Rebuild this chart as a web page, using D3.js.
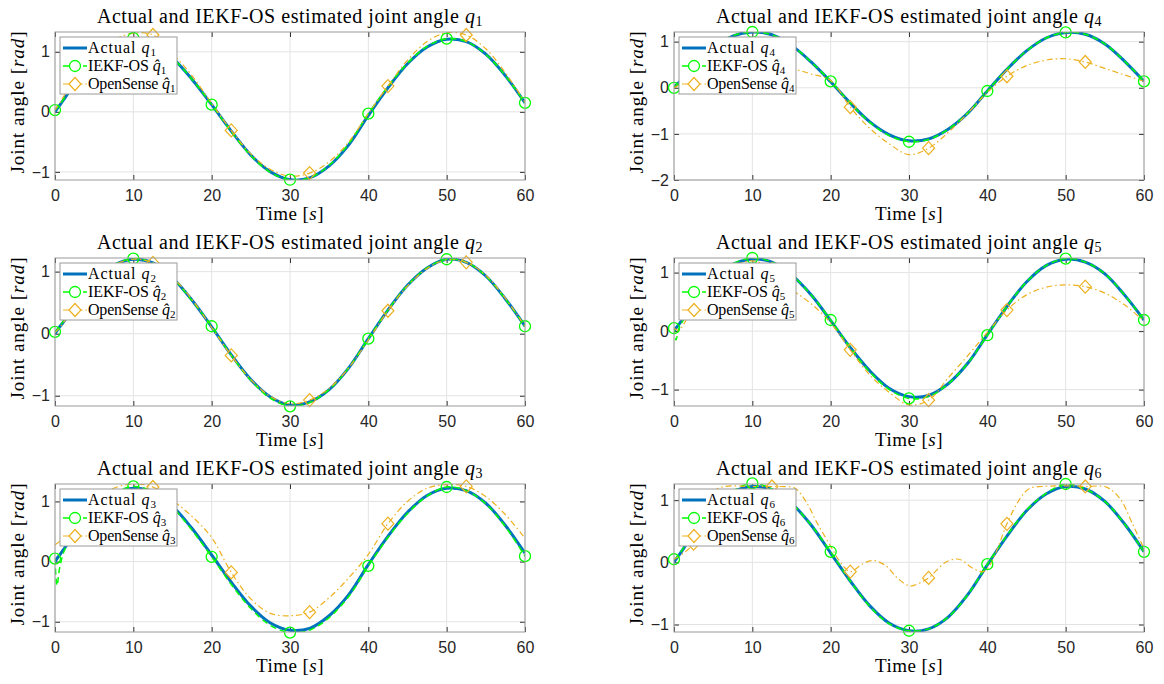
<!DOCTYPE html>
<html>
<head>
<meta charset="utf-8">
<script src="https://cdn.jsdelivr.net/npm/d3@7"></script>
<style>
  body { margin: 0; background: #fff; }
  svg { display: block; }
  .tick text { font-family: "Liberation Sans", Arial, sans-serif; font-size: 16px; fill: #262626; }
  .serif { font-family: "Liberation Serif", "Times New Roman", serif; fill: #000; }
</style>
</head>
<body>
<div id="chart"></div>
<script>
// Sample times [s] shared by most series
const timeGrid = [0, 0.25, 0.6, 1.25, 2.5, 5, 7.5, 10, 12.5, 15, 17.5, 20, 22.5, 25, 27.5, 30,
  32.5, 35, 37.5, 40, 42.5, 45, 47.5, 50, 52.5, 55, 57.5, 60];

// Marker positions (MATLAB MarkerIndices)
const circleTimes = [0, 10, 20, 30, 40, 50, 60];
const diamondTimes = [2.5, 12.5, 22.5, 32.5, 42.5, 52.5];
const xTicks = [0, 10, 20, 30, 40, 50, 60];

// q1
const actualQ1 = [0, 0.05, 0.11, 0.23, 0.46, 0.86, 1.12, 1.21, 1.14, 0.9, 0.54, 0.12, -0.32, -0.72, -1.0, -1.13, -1.1, -0.9, -0.55, -0.06, 0.4, 0.8, 1.08, 1.21, 1.17, 0.96, 0.6, 0.15];
const iekfQ1 = [0.03, 0.07, 0.12, 0.24, 0.47, 0.87, 1.13, 1.23, 1.15, 0.9, 0.54, 0.12, -0.33, -0.73, -1.01, -1.13, -1.1, -0.89, -0.53, -0.03, 0.42, 0.81, 1.09, 1.22, 1.17, 0.96, 0.6, 0.15];
const osQ1 = [0.03, 0.08, 0.15, 0.29, 0.55, 0.95, 1.2, 1.31, 1.28, 0.97, 0.6, 0.14, -0.31, -0.7, -0.96, -1.07, -1.02, -0.83, -0.5, -0.03, 0.43, 0.86, 1.17, 1.32, 1.28, 1.05, 0.65, 0.16];

// q2
const actualQ2 = [0, 0.05, 0.11, 0.22, 0.45, 0.85, 1.1, 1.2, 1.14, 0.9, 0.54, 0.11, -0.34, -0.74, -1.02, -1.15, -1.1, -0.9, -0.55, -0.08, 0.38, 0.78, 1.06, 1.2, 1.15, 0.93, 0.56, 0.12];
const iekfQ2 = [0.03, 0.06, 0.12, 0.23, 0.46, 0.86, 1.11, 1.21, 1.14, 0.9, 0.53, 0.12, -0.35, -0.75, -1.04, -1.17, -1.11, -0.9, -0.55, -0.08, 0.38, 0.78, 1.06, 1.2, 1.15, 0.93, 0.56, 0.12];
const osQ2 = [0.02, 0.05, 0.1, 0.21, 0.44, 0.84, 1.1, 1.2, 1.14, 0.91, 0.55, 0.1, -0.35, -0.74, -1.01, -1.13, -1.07, -0.88, -0.55, -0.1, 0.37, 0.77, 1.05, 1.19, 1.15, 0.94, 0.57, 0.12];

// q3
const actualQ3 = [0, 0.05, 0.11, 0.23, 0.46, 0.86, 1.12, 1.22, 1.16, 0.92, 0.55, 0.11, -0.34, -0.74, -1.02, -1.14, -1.11, -0.9, -0.55, -0.05, 0.42, 0.82, 1.1, 1.22, 1.18, 0.97, 0.6, 0.14];
const iekfQ3 = [0.05, -0.4, -0.1, 0.2, 0.44, 0.85, 1.13, 1.25, 1.16, 0.9, 0.52, 0.08, -0.38, -0.78, -1.06, -1.18, -1.14, -0.93, -0.58, -0.07, 0.4, 0.8, 1.09, 1.24, 1.18, 0.96, 0.58, 0.09];
const osQ3 = [0.28, 0.3, 0.34, 0.43, 0.66, 1.02, 1.22, 1.29, 1.24, 1.02, 0.75, 0.4, -0.18, -0.62, -0.86, -0.9, -0.84, -0.6, -0.27, 0.12, 0.63, 1.0, 1.22, 1.28, 1.25, 1.08, 0.78, 0.39];

// q4
const actualQ4 = [0, 0.05, 0.11, 0.23, 0.46, 0.86, 1.12, 1.21, 1.15, 0.92, 0.56, 0.13, -0.33, -0.74, -1.02, -1.15, -1.11, -0.9, -0.55, -0.07, 0.4, 0.8, 1.08, 1.2, 1.16, 0.95, 0.58, 0.14];
const iekfQ4 = [0, 0.05, 0.11, 0.23, 0.47, 0.87, 1.13, 1.21, 1.15, 0.92, 0.56, 0.14, -0.33, -0.75, -1.04, -1.17, -1.12, -0.9, -0.55, -0.07, 0.4, 0.8, 1.08, 1.2, 1.16, 0.95, 0.58, 0.14];
const osQ4 = [0, 0.02, 0.06, 0.14, 0.3, 0.45, 0.52, 0.53, 0.5, 0.42, 0.3, 0.16, -0.42, -0.88, -1.22, -1.45, -1.31, -0.97, -0.55, -0.1, 0.25, 0.48, 0.6, 0.63, 0.56, 0.42, 0.28, 0.14];

// q5
const actualQ5 = [0, 0.05, 0.11, 0.23, 0.47, 0.88, 1.14, 1.23, 1.18, 0.96, 0.62, 0.18, -0.28, -0.68, -0.98, -1.12, -1.1, -0.9, -0.55, -0.06, 0.42, 0.84, 1.12, 1.23, 1.18, 0.98, 0.62, 0.19];
const iekfQ5 = [0.05, -0.15, 0.03, 0.2, 0.46, 0.88, 1.15, 1.25, 1.18, 0.96, 0.62, 0.19, -0.28, -0.7, -1.0, -1.15, -1.12, -0.9, -0.55, -0.07, 0.42, 0.84, 1.12, 1.24, 1.18, 0.98, 0.62, 0.19];
const osQ5 = [0.05, 0.03, 0.01, 0.12, 0.42, 0.84, 1.1, 1.2, 1.06, 0.72, 0.47, 0.14, -0.32, -0.75, -1.05, -1.26, -1.18, -0.8, -0.42, -0.02, 0.36, 0.62, 0.75, 0.79, 0.76, 0.65, 0.45, 0.17];

// q6 (OpenSense has its own, finer time base)
const actualQ6 = [0, 0.05, 0.11, 0.23, 0.47, 0.87, 1.13, 1.22, 1.17, 0.95, 0.6, 0.15, -0.3, -0.7, -0.98, -1.1, -1.07, -0.88, -0.52, -0.04, 0.42, 0.83, 1.1, 1.22, 1.18, 0.98, 0.62, 0.17];
const iekfQ6 = [0.05, 0.07, 0.12, 0.24, 0.48, 0.88, 1.15, 1.27, 1.18, 0.95, 0.6, 0.17, -0.3, -0.71, -0.99, -1.1, -1.07, -0.88, -0.52, -0.03, 0.43, 0.84, 1.11, 1.26, 1.18, 0.98, 0.62, 0.17];
const osTimeQ6 = [0, 1.25, 2.5, 3.5, 5.2, 6.5, 10, 12.5, 15, 15.6, 16.9, 18.2, 19.9, 21.2, 22.5, 24, 25.4, 27, 28.5, 30.1,
  31.4, 32.5, 34.8, 36.4, 38.2, 39.5, 40.3, 41.3, 42.5, 44.2, 45.4, 47, 50, 52.5, 55.2, 56.9, 58.6, 60];
const osQ6 = [0.05, 0.15, 0.3, 0.55, 1.15, 1.22, 1.22, 1.22, 1.21, 1.18, 0.97, 0.65, 0.28, 0.01, -0.15, -0.03, 0.03, -0.05, -0.25, -0.38,
  -0.33, -0.25, 0.01, 0.05, -0.1, -0.15, -0.05, 0.22, 0.62, 1.03, 1.19, 1.22, 1.23, 1.22, 1.21, 1.03, 0.6, 0.22];

const colors = { actual: "#0072BD", iekf: "#00FF00", os: "#EDB120" };

// Stretch a serif label to the width the LaTeX font gives in the original
function fitWidth(sel, target) {
  sel.each(function () {
    const w = this.getComputedTextLength();
    const n = this.textContent.length;
    if (n > 1) d3.select(this).attr("letter-spacing", ((target - w) / n).toFixed(2));
  });
}

class JointPanel {
  constructor(_config) {
    this.config = {
      parent: _config.parent,
      left: _config.left,
      top: _config.top,
      width: _config.width || 470,
      height: _config.height || 148,
      joint: _config.joint,
      yDomain: _config.yDomain,
      yTicks: _config.yTicks
    }
    this.actual = _config.actual;
    this.iekf = _config.iekf;
    this.os = _config.os;
    this.osTime = _config.osTime || timeGrid;
    this.initVis();
  }

  initVis() {
    let vis = this;
    let cfg = vis.config;
    vis.g = cfg.parent.append("g")
      .attr("transform", `translate(${cfg.left},${cfg.top})`);

    vis.xScale = d3.scaleLinear().domain([0, 60]).range([0, cfg.width]);
    vis.yScale = d3.scaleLinear().domain(cfg.yDomain).range([cfg.height, 0]);

    vis.clipId = "clip" + cfg.joint;
    vis.g.append("clipPath").attr("id", vis.clipId)
      .append("rect").attr("width", cfg.width).attr("height", cfg.height);

    vis.renderVis();
  }

  renderVis() {
    let vis = this;
    let cfg = vis.config;
    let x = vis.xScale, y = vis.yScale;

    // white plot area + grid
    vis.g.append("rect").attr("width", cfg.width).attr("height", cfg.height).attr("fill", "#fff");
    vis.g.append("g").selectAll("line").data(xTicks).join("line")
      .attr("x1", d => x(d)).attr("x2", d => x(d))
      .attr("y1", 0).attr("y2", cfg.height)
      .attr("stroke", "#e3e3e3").attr("stroke-width", 1);
    vis.g.append("g").selectAll("line").data(cfg.yTicks).join("line")
      .attr("x1", 0).attr("x2", cfg.width)
      .attr("y1", d => y(d)).attr("y2", d => y(d))
      .attr("stroke", "#e3e3e3").attr("stroke-width", 1);

    // axes: labelled bottom/left, plain ticks top/right
    let styleAxis = sel => {
      sel.select(".domain").remove();
      sel.selectAll(".tick line").attr("stroke", "#333");
    }
    vis.g.append("g").attr("transform", `translate(0,${cfg.height})`)
      .call(d3.axisBottom(x).tickValues(xTicks).tickFormat(d3.format("d")).tickSizeInner(-5).tickSizeOuter(0).tickPadding(10))
      .call(styleAxis);
    vis.g.append("g")
      .call(d3.axisLeft(y).tickValues(cfg.yTicks).tickFormat(d3.format("d")).tickSizeInner(-5).tickSizeOuter(0).tickPadding(5))
      .call(styleAxis);
    vis.g.append("g")
      .call(d3.axisTop(x).tickValues(xTicks).tickFormat("").tickSizeInner(-5).tickSizeOuter(0))
      .call(styleAxis);
    vis.g.append("g").attr("transform", `translate(${cfg.width},0)`)
      .call(d3.axisRight(y).tickValues(cfg.yTicks).tickFormat("").tickSizeInner(-5).tickSizeOuter(0))
      .call(styleAxis);

    // series
    let line = d3.line()
      .x(d => x(d[0])).y(d => y(d[1]))
      .curve(d3.curveCatmullRom.alpha(0.5));
    let actualPts = timeGrid.map((t, i) => [t, vis.actual[i]]);
    let iekfPts = timeGrid.map((t, i) => [t, vis.iekf[i]]);
    let osPts = vis.osTime.map((t, i) => [t, vis.os[i]]);

    let lines = vis.g.append("g").attr("clip-path", `url(#${vis.clipId})`).attr("fill", "none");
    lines.append("path").attr("d", line(actualPts))
      .attr("stroke", colors.actual).attr("stroke-width", 3);
    lines.append("path").attr("d", line(iekfPts))
      .attr("stroke", colors.iekf).attr("stroke-width", 1.5).attr("stroke-dasharray", "6,4");
    lines.append("path").attr("d", line(osPts))
      .attr("stroke", colors.os).attr("stroke-width", 1.2).attr("stroke-dasharray", "6,3,1.5,3");

    vis.g.append("g").selectAll("circle")
      .data(iekfPts.filter(d => circleTimes.includes(d[0]))).join("circle")
      .attr("cx", d => x(d[0])).attr("cy", d => y(d[1])).attr("r", 5.5)
      .attr("fill", "none").attr("stroke", colors.iekf).attr("stroke-width", 1.3);
    vis.g.append("g").selectAll("path")
      .data(osPts.filter(d => diamondTimes.includes(d[0]))).join("path")
      .attr("d", "M0,-6.5L6,0L0,6.5L-6,0Z")
      .attr("transform", d => `translate(${x(d[0])},${y(d[1])})`)
      .attr("fill", "none").attr("stroke", colors.os).attr("stroke-width", 1.2);

    // box
    vis.g.append("rect").attr("width", cfg.width).attr("height", cfg.height)
      .attr("fill", "none").attr("stroke", "#9a9a9a").attr("stroke-width", 1);

    // title
    let title = vis.g.append("text").attr("class", "serif")
      .attr("x", cfg.width / 2).attr("y", -9).attr("text-anchor", "middle")
      .attr("font-size", 20);
    title.append("tspan").text("Actual and IEKF-OS estimated joint angle ");
    title.append("tspan").attr("font-style", "italic").text("q");
    title.append("tspan").attr("font-size", 14).attr("dy", 3).text(cfg.joint);
    fitWidth(title, 386);

    // axis labels
    let xl = vis.g.append("text").attr("class", "serif")
      .attr("x", cfg.width / 2).attr("y", cfg.height + 40).attr("text-anchor", "middle")
      .attr("font-size", 19);
    xl.append("tspan").text("Time [");
    xl.append("tspan").attr("font-style", "italic").text("s");
    xl.append("tspan").text("]");
    fitWidth(xl, 68);

    let yl = vis.g.append("text").attr("class", "serif")
      .attr("transform", `translate(-31,${cfg.height / 2 - 4}) rotate(-90)`)
      .attr("text-anchor", "middle").attr("font-size", 19);
    yl.append("tspan").text("Joint angle [");
    yl.append("tspan").attr("font-style", "italic").text("rad");
    yl.append("tspan").text("]");
    fitWidth(yl, 143);

    vis.renderLegend();
  }

  renderLegend() {
    let vis = this;
    let cfg = vis.config;
    let items = [
      { label: "Actual ", sym: "q", color: colors.actual, width: 3, dash: null, marker: null, fit: 69 },
      { label: "IEKF-OS ", sym: "q\u0302", color: colors.iekf, width: 1.5, dash: "6,4", marker: "circle", fit: 78 },
      { label: "OpenSense ", sym: "q\u0302", color: colors.os, width: 1.2, dash: "6,3,1.5,3", marker: "diamond", fit: 87 }
    ];
    let lg = vis.g.append("g").attr("transform", "translate(5,5)");
    lg.append("rect").attr("width", 117).attr("height", 57)
      .attr("fill", "#fff").attr("stroke", "#9a9a9a").attr("stroke-width", 1);

    let rows = lg.selectAll("g.row").data(items).join("g")
      .attr("class", "row")
      .attr("transform", (d, i) => `translate(0,${11 + i * 18})`);
    rows.append("line").attr("x1", 3).attr("x2", 27)
      .attr("stroke", d => d.color).attr("stroke-width", d => d.width)
      .attr("stroke-dasharray", d => d.dash);
    rows.filter(d => d.marker === "circle").append("circle")
      .attr("cx", 15).attr("r", 5.5).attr("fill", "#fff")
      .attr("stroke", d => d.color).attr("stroke-width", 1.3);
    rows.filter(d => d.marker === "diamond").append("path")
      .attr("d", "M15,-6.5L21,0L15,6.5L9,0Z").attr("fill", "#fff")
      .attr("stroke", d => d.color).attr("stroke-width", 1.2);

    let txt = rows.append("text").attr("class", "serif")
      .attr("x", 28).attr("y", 5).attr("font-size", 16);
    txt.append("tspan").text(d => d.label);
    txt.append("tspan").attr("font-style", "italic").text(d => d.sym);
    txt.append("tspan").attr("font-size", 11).attr("dy", 3).text(cfg.joint);
    txt.each(function (d) { fitWidth(d3.select(this), d.fit); });
  }
}

const svg = d3.select("#chart").append("svg")
  .attr("width", 1164).attr("height", 684);

const colLeft = [55, 674];
const rowTop = [32, 258, 484];

new JointPanel({ parent: svg, left: colLeft[0], top: rowTop[0], joint: 1, yDomain: [-1.135, 1.33], yTicks: [-1, 0, 1], actual: actualQ1, iekf: iekfQ1, os: osQ1 });
new JointPanel({ parent: svg, left: colLeft[0], top: rowTop[1], joint: 2, yDomain: [-1.165, 1.22], yTicks: [-1, 0, 1], actual: actualQ2, iekf: iekfQ2, os: osQ2 });
new JointPanel({ parent: svg, left: colLeft[0], top: rowTop[2], joint: 3, yDomain: [-1.17, 1.29], yTicks: [-1, 0, 1], actual: actualQ3, iekf: iekfQ3, os: osQ3 });
new JointPanel({ parent: svg, left: colLeft[1], top: rowTop[0], joint: 4, yDomain: [-2, 1.21], yTicks: [-2, -1, 0, 1], actual: actualQ4, iekf: iekfQ4, os: osQ4 });
new JointPanel({ parent: svg, left: colLeft[1], top: rowTop[1], joint: 5, yDomain: [-1.28, 1.25], yTicks: [-1, 0, 1], actual: actualQ5, iekf: iekfQ5, os: osQ5 });
new JointPanel({ parent: svg, left: colLeft[1], top: rowTop[2], joint: 6, yDomain: [-1.12, 1.26], yTicks: [-1, 0, 1], actual: actualQ6, iekf: iekfQ6, os: osQ6, osTime: osTimeQ6 });
</script>
</body>
</html>
